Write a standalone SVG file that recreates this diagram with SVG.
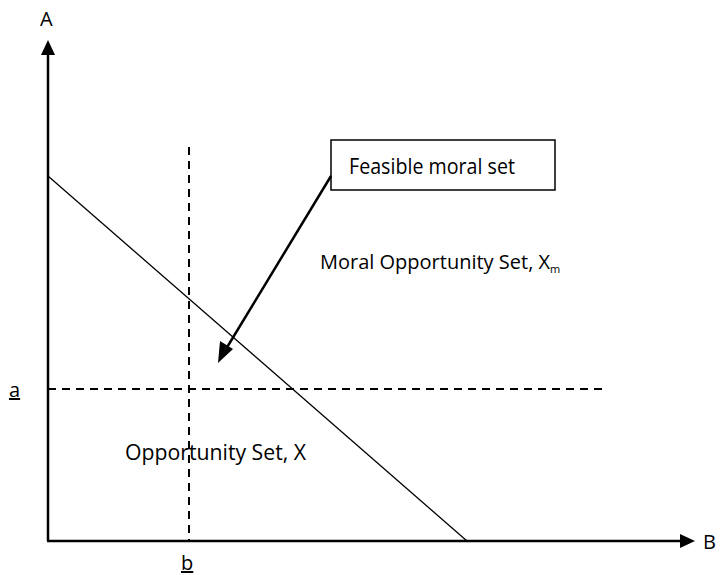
<svg xmlns="http://www.w3.org/2000/svg" width="720" height="575" viewBox="0 0 720 575">
<style>
text{font-family:"Open Sans","Liberation Sans",sans-serif;font-size:20px;fill:#000}
.lbl{font-size:21px}
.ax{stroke:#000;stroke-width:2.5;fill:none}
.dash{stroke:#000;stroke-width:2;stroke-dasharray:8,6;fill:none}
.thin{stroke:#000;stroke-width:1.3;fill:none}
</style>
<g id="axes">
<line class="ax" x1="48" y1="541" x2="48" y2="54"/>
<path d="M41,55 L48,40 L55,55 z" fill="#000"/>
<line class="ax" x1="47" y1="541" x2="680" y2="541"/>
<path d="M680,534 L695,541 L680,548 z" fill="#000"/>
<text x="40" y="26">A</text>
<text x="703" y="549">B</text>
</g>
<g id="lines">
<line class="thin" x1="48" y1="176" x2="467" y2="541"/>
<line class="dash" x1="189" y1="147" x2="189" y2="541"/>
<line class="dash" x1="48" y1="389" x2="606" y2="389"/>
</g>
<g id="labels">
<text x="9" y="397" text-decoration="underline">a</text>
<text x="181" y="570" text-decoration="underline">b</text>
<text class="lbl" x="125" y="460" textLength="181" lengthAdjust="spacingAndGlyphs">Opportunity Set, X</text>
<text x="320" y="269" font-size="19.5">Moral Opportunity Set, X<tspan font-size="11" dy="4">m</tspan></text>
</g>
<g id="box">
<rect x="331" y="140" width="224" height="50" fill="#fff" stroke="#000" stroke-width="1.5"/>
<text class="lbl" x="349" y="174" textLength="166" lengthAdjust="spacingAndGlyphs">Feasible moral set</text>
</g>
<g id="connectors">
<line x1="331" y1="176" x2="226" y2="349" stroke="#000" stroke-width="2.5"/>
<path d="M218,363 L220,341 L233,349 z" fill="#000"/>
</g>
</svg>
